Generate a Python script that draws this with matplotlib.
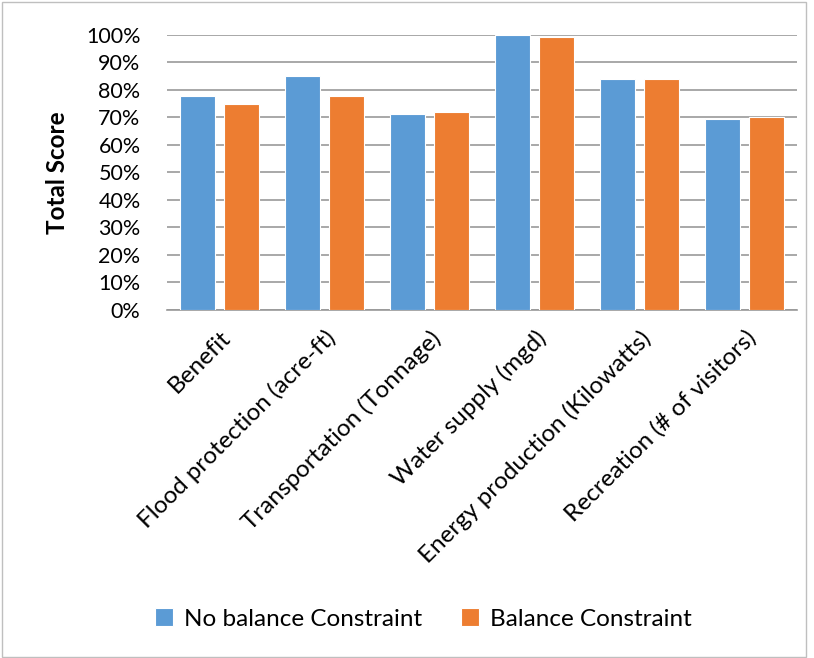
import numpy as np
import matplotlib
matplotlib.use('Agg')
import matplotlib.pyplot as plt
from matplotlib.ticker import PercentFormatter
from matplotlib.patches import Rectangle

plt.rcParams['font.family'] = ['Lato', 'DejaVu Sans']

labels = ['Benefit', 'Flood protection (acre-ft)', 'Transportation (Tonnage)',
          'Water supply (mgd)', 'Energy production (Kilowatts)', 'Recreation (# of visitors)']
no_balance = [77.6, 85.1, 71.3, 100.0, 83.9, 69.4]
balance = [74.8, 77.8, 71.9, 99.0, 83.9, 70.0]

x = np.arange(len(labels))
width = 0.33  # bar width
off = 0.21
fs = 17.5

fig = plt.figure(figsize=(8.14, 6.58), dpi=100)
ax = fig.add_axes([167 / 814, 1 - 310 / 658, 630 / 814, 275.3 / 658])

ax.bar(x - off, no_balance, width, color='#5B9BD5', edgecolor='white', linewidth=0.8,
       label='No balance Constraint', zorder=3)
ax.bar(x + off, balance, width, color='#ED7D31', edgecolor='white', linewidth=0.8,
       label='Balance Constraint', zorder=3)

ax.set_xlim(-0.5, len(labels) - 0.5)
ax.set_ylim(0, 100)
ax.set_yticks(np.arange(0, 101, 10))
ax.yaxis.set_major_formatter(PercentFormatter(decimals=0))
ax.grid(axis='y', color='#999999', linewidth=1.2, zorder=0)
for s in ['top', 'right', 'left']:
    ax.spines[s].set_visible(False)
ax.spines['bottom'].set_color('#999999')
ax.spines['bottom'].set_linewidth(1.2)
ax.tick_params(axis='both', length=0, colors='black')
ax.tick_params(axis='y', pad=19, labelsize=15.5)

ax.set_xticks(x)
ax.set_xticklabels(labels, rotation=45, ha='right', rotation_mode='anchor', fontsize=fs)
ax.tick_params(axis='x', pad=12)

ax.set_ylabel('Total Score', fontsize=fs, fontweight='bold', labelpad=12)

fig.legend(loc='center', bbox_to_anchor=(0.52, 1 - 619 / 658), ncol=2, frameon=False,
           fontsize=fs, handlelength=0.75, handleheight=0.75, columnspacing=1.6,
           handletextpad=0.45)

fig.patches.append(Rectangle((0.002, 0.002), 0.988, 0.995, transform=fig.transFigure,
                             fill=False, edgecolor='#BFBFBF', linewidth=1))

fig.savefig('out.png', dpi=100)
